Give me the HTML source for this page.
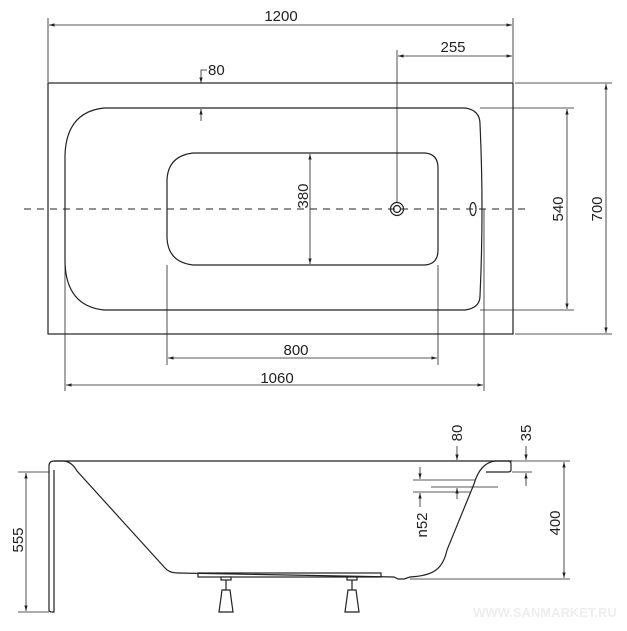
<!DOCTYPE html>
<html><head><meta charset="utf-8"><style>
html,body{margin:0;padding:0;background:#fff;}
svg{display:block;}
text{font-family:"Liberation Sans",Arial,sans-serif;font-size:15px;fill:#222;}
</style></head><body>
<svg width="627" height="631" viewBox="0 0 627 631" xmlns="http://www.w3.org/2000/svg">
<defs>
<marker id="a" viewBox="0 0 10 10" refX="10" refY="5" markerWidth="7" markerHeight="7" orient="auto-start-reverse"><path d="M0,2 L10,5 L0,8 z" fill="#222"/></marker>
</defs>
<g stroke="#222" stroke-width="1.2" fill="none">
<!-- top view -->
<rect x="48" y="83" width="465" height="251"/>
<path d="M104,108 L465,108 Q480,110 480,124 Q484,209 480,296 Q480,308 465,310 L104,310 Q66,306 65,262 L65,156 Q66,112 104,108 Z"/>
<path d="M193,153 L425,153 Q438,154 438,168 L438,250 Q438,264 425,265 L193,265 Q168,262 167,238 L167,180 Q168,156 193,153 Z"/>
<line x1="24" y1="209" x2="530" y2="209" stroke-dasharray="7,6" stroke-width="1"/>
<circle cx="397" cy="209" r="6.5"/><circle cx="397" cy="209" r="3.5"/>
<ellipse cx="473" cy="209" rx="3" ry="6.5"/>
<!-- 1200 -->
<line x1="48" y1="18" x2="48" y2="82" stroke-width="0.8"/>
<line x1="513" y1="18" x2="513" y2="82" stroke-width="0.8"/>
<line x1="49" y1="25" x2="512" y2="25" stroke-width="0.8" marker-start="url(#a)" marker-end="url(#a)"/>
<!-- 255 -->
<line x1="397" y1="50" x2="397" y2="203" stroke-width="0.8"/>
<line x1="398" y1="56" x2="512" y2="56" stroke-width="0.8" marker-start="url(#a)" marker-end="url(#a)"/>
<!-- 80 top -->
<path d="M207,70 L201,70 L201,83" stroke-width="0.8" marker-end="url(#a)"/>
<line x1="201" y1="121" x2="201" y2="109" stroke-width="0.8" marker-end="url(#a)"/>
<!-- 380 -->
<line x1="310" y1="154" x2="310" y2="264" stroke-width="0.8" marker-start="url(#a)" marker-end="url(#a)"/>
<!-- 540 -->
<line x1="480" y1="108" x2="574" y2="108" stroke-width="0.8"/>
<line x1="480" y1="310" x2="574" y2="310" stroke-width="0.8"/>
<line x1="567" y1="109" x2="567" y2="309" stroke-width="0.8" marker-start="url(#a)" marker-end="url(#a)"/>
<!-- 700 -->
<line x1="515" y1="83" x2="612" y2="83" stroke-width="0.8"/>
<line x1="515" y1="334" x2="612" y2="334" stroke-width="0.8"/>
<line x1="606" y1="84" x2="606" y2="333" stroke-width="0.8" marker-start="url(#a)" marker-end="url(#a)"/>
<!-- 800 -->
<line x1="167" y1="265" x2="167" y2="365" stroke-width="0.8"/>
<line x1="438" y1="265" x2="438" y2="365" stroke-width="0.8"/>
<line x1="168" y1="358" x2="437" y2="358" stroke-width="0.8" marker-start="url(#a)" marker-end="url(#a)"/>
<!-- 1060 -->
<line x1="65" y1="262" x2="65" y2="391" stroke-width="0.8"/>
<line x1="484" y1="209" x2="484" y2="391" stroke-width="0.8"/>
<line x1="66" y1="385" x2="483" y2="385" stroke-width="0.8" marker-start="url(#a)" marker-end="url(#a)"/>

<!-- side view -->
<path d="M54,461 L512,461" />
<path d="M54,461 Q49,461 49,466 L49,610 Q49,612 52,612 L54,612 L54,470" />
<path d="M54,461 L64,461 Q72,462 77,471 L165,568 Q169,573 178,573 L394,577 L398,579 L404,579 L410,577 Q428,576 436,570 Q444,564 447,550 L474,484 Q480,463 495,461"/>
<path d="M495,461 L508,461 Q511,461 511,464 L511,470 Q511,472 508,472 L486,472"/>
<rect x="198" y="573" width="183" height="4"/>
<line x1="226" y1="577" x2="226" y2="590"/><line x1="352" y1="577" x2="352" y2="590"/>
<rect x="221" y="577" width="10" height="3" fill="#fff"/><rect x="347" y="577" width="10" height="3" fill="#fff"/>
<path d="M222,590 L230,590 L233,612 L219,612 Z"/>
<path d="M348,590 L356,590 L359,612 L345,612 Z"/>
<!-- 555 -->
<line x1="18" y1="472" x2="49" y2="472" stroke-width="0.8"/>
<line x1="18" y1="612" x2="49" y2="612" stroke-width="0.8"/>
<line x1="26" y1="473" x2="26" y2="611" stroke-width="0.8" marker-start="url(#a)" marker-end="url(#a)"/>
<!-- 400 -->
<line x1="512" y1="461" x2="570" y2="461" stroke-width="0.8"/>
<line x1="410" y1="579" x2="570" y2="579" stroke-width="0.8"/>
<line x1="564" y1="462" x2="564" y2="578" stroke-width="0.8" marker-start="url(#a)" marker-end="url(#a)"/>
<!-- 35 -->
<line x1="526" y1="446" x2="526" y2="460" stroke-width="0.8" marker-end="url(#a)"/>
<line x1="526" y1="486" x2="526" y2="473" stroke-width="0.8" marker-end="url(#a)"/>
<line x1="512" y1="472" x2="532" y2="472" stroke-width="0.8"/>
<!-- 80 side -->
<line x1="457" y1="446" x2="457" y2="460" stroke-width="0.8" marker-end="url(#a)"/>
<line x1="457" y1="499" x2="457" y2="488" stroke-width="0.8" marker-end="url(#a)"/>
<!-- n52 -->
<line x1="413" y1="480" x2="475" y2="480" stroke-width="0.8"/>
<line x1="431" y1="487" x2="498" y2="487" stroke-width="0.8"/>
<line x1="413" y1="492" x2="470" y2="492" stroke-width="0.8"/>
<line x1="420" y1="467" x2="420" y2="479" stroke-width="0.8" marker-end="url(#a)"/>
<line x1="420" y1="507" x2="420" y2="493" stroke-width="0.8" marker-end="url(#a)"/>
</g>
<text x="281" y="21" text-anchor="middle">1200</text>
<text x="453" y="52" text-anchor="middle">255</text>
<text x="208" y="75">80</text>
<text transform="translate(308,196) rotate(-90)" text-anchor="middle">380</text>
<text transform="translate(563,209) rotate(-90)" text-anchor="middle">540</text>
<text transform="translate(602,209) rotate(-90)" text-anchor="middle">700</text>
<text x="296" y="355" text-anchor="middle">800</text>
<text x="277" y="383" text-anchor="middle">1060</text>
<text transform="translate(23,540) rotate(-90)" text-anchor="middle">555</text>
<text transform="translate(560,523) rotate(-90)" text-anchor="middle">400</text>
<text transform="translate(531,433) rotate(-90)" text-anchor="middle">35</text>
<text transform="translate(462,433) rotate(-90)" text-anchor="middle">80</text>
<text transform="translate(427,525) rotate(-90)" text-anchor="middle">n52</text>
<text x="545" y="617" text-anchor="middle" style="fill:#eee;font-size:13px;font-weight:bold">WWW.SANMARKET.RU</text>
</svg>
</body></html>
